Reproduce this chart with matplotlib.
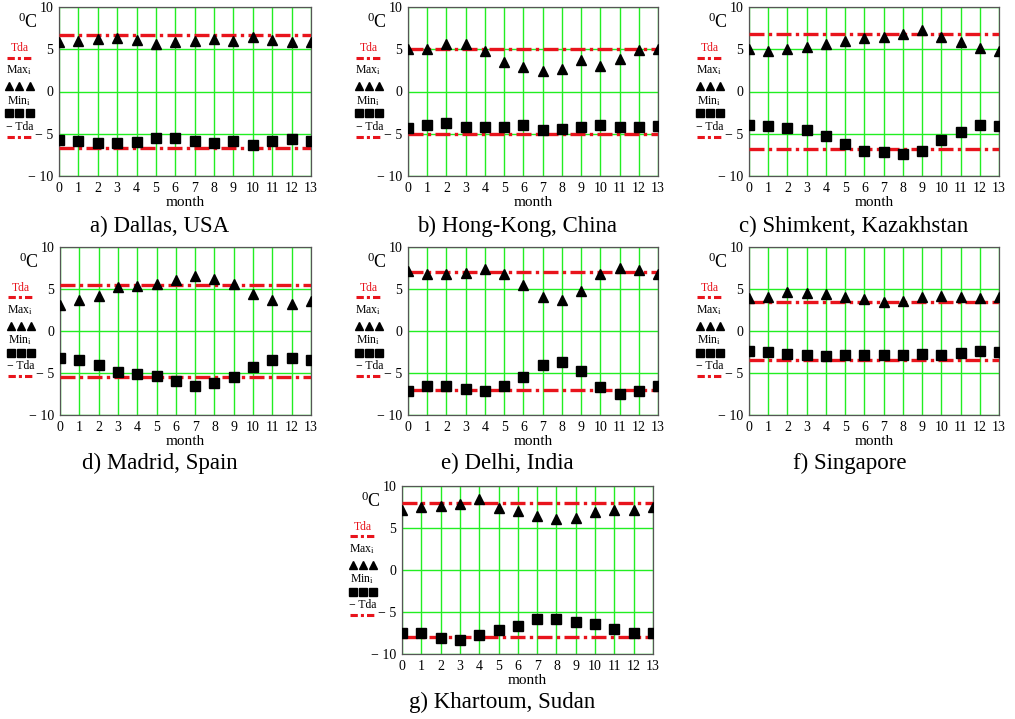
import numpy as np
import matplotlib.pyplot as plt

plt.rcParams["font.family"] = ["Liberation Serif", "DejaVu Serif"]
plt.rcParams["mathtext.fontset"] = "custom"
plt.rcParams["mathtext.rm"] = "Liberation Serif"
plt.rcParams["mathtext.it"] = "Liberation Serif:italic"

month = np.arange(14)

# Tda level and monthly max / min values
dallas_tda = 6.7
dallas_max = [5.85, 5.95, 6.2, 6.3, 6.1, 5.6, 5.8, 6.0, 6.2, 6.0, 6.4, 6.1, 5.85, 5.85]
dallas_min = [-5.7, -5.8, -6.1, -6.15, -6.0, -5.55, -5.5, -5.8, -6.1, -5.8, -6.3, -5.9, -5.6, -5.8]

hongkong_tda = 5.05
hongkong_max = [5.0, 5.05, 5.65, 5.65, 4.8, 3.45, 2.9, 2.4, 2.7, 3.7, 3.0, 3.9, 4.9, 5.05]
hongkong_min = [-4.3, -4.0, -3.75, -4.2, -4.2, -4.25, -3.95, -4.5, -4.4, -4.2, -4.0, -4.2, -4.25, -4.05]

shimkent_tda = 6.75
shimkent_max = [5.0, 4.8, 5.0, 5.3, 5.65, 6.0, 6.35, 6.4, 6.85, 7.3, 6.5, 5.8, 5.2, 4.8]
shimkent_min = [-4.0, -4.1, -4.3, -4.6, -5.3, -6.2, -7.0, -7.2, -7.4, -7.1, -5.7, -4.75, -4.0, -4.1]

madrid_tda = 5.5
madrid_max = [3.15, 3.65, 4.15, 5.2, 5.4, 5.6, 6.05, 6.55, 6.25, 5.6, 4.35, 3.7, 3.2, 3.55]
madrid_min = [-3.2, -3.5, -4.1, -4.9, -5.1, -5.4, -6.0, -6.5, -6.2, -5.45, -4.3, -3.5, -3.25, -3.5]

delhi_tda = 7.0
delhi_max = [7.2, 6.75, 6.75, 6.95, 7.35, 6.8, 5.45, 4.0, 3.7, 4.75, 6.8, 7.55, 7.3, 6.75]
delhi_min = [-7.1, -6.6, -6.6, -6.9, -7.1, -6.5, -5.5, -4.0, -3.65, -4.75, -6.65, -7.5, -7.1, -6.6]

singapore_tda = 3.5
singapore_max = [3.95, 4.05, 4.7, 4.55, 4.35, 4.0, 3.8, 3.5, 3.6, 4.0, 4.15, 4.1, 3.95, 4.0]
singapore_min = [-2.35, -2.5, -2.7, -2.8, -3.0, -2.8, -2.8, -2.8, -2.8, -2.7, -2.8, -2.6, -2.35, -2.5]

khartoum_tda = 8.0
khartoum_max = [7.2, 7.5, 7.6, 7.8, 8.45, 7.35, 7.0, 6.4, 6.1, 6.25, 6.9, 7.15, 7.2, 7.5]
khartoum_min = [-7.45, -7.55, -8.15, -8.35, -7.75, -7.2, -6.65, -5.85, -5.85, -6.15, -6.45, -7.05, -7.45, -7.55]

captions = ["a) Dallas, USA", "b) Hong-Kong, China", "c) Shimkent, Kazakhstan",
            "d) Madrid, Spain", "e) Delhi, India", "f) Singapore", "g) Khartoum, Sudan"]
tdas = [dallas_tda, hongkong_tda, shimkent_tda, madrid_tda, delhi_tda, singapore_tda, khartoum_tda]
maxs = [dallas_max, hongkong_max, shimkent_max, madrid_max, delhi_max, singapore_max, khartoum_max]
mins = [dallas_min, hongkong_min, shimkent_min, madrid_min, delhi_min, singapore_min, khartoum_min]

# layout in pixels: axes box (x0, y0, x1, y1) and caption centre
W, H = 1015, 719
boxes = [(59, 7, 311, 176), (408, 7, 658, 176), (749, 7, 999, 176),
         (60, 247, 311, 415), (408, 247, 658, 415), (749, 247, 999, 415),
         (402, 486, 653, 654)]
cap_pos = [(160, 226), (517, 226), (854, 226),
           (160, 463), (507, 463), (850, 463), (502, 702)]

RED = "#e8141c"
GREEN = "#22ee22"
DASH = (0, (4.5, 1.3, 1.0, 1.3))
LEG_DASH = (0, (2.4, 1.0, 1.0, 1.0))
LEG_X = [-0.197, -0.157, -0.117]

fig = plt.figure(figsize=(W / 100, H / 100), dpi=100)

for i in range(7):
    x0, y0, x1, y1 = boxes[i]
    ax = fig.add_axes([x0 / W, 1 - y1 / H, (x1 - x0) / W, (y1 - y0) / H])
    tda = tdas[i]

    ax.plot(month, maxs[i], "^", color="black", markersize=7.5, zorder=4)
    ax.plot(month, mins[i], "s", color="black", markersize=7.5, zorder=4)
    ax.plot(month, np.full(14, tda), color=RED, lw=2.4, linestyle=DASH, zorder=3)
    ax.plot(month, np.full(14, -tda), color=RED, lw=2.4, linestyle=DASH, zorder=3)

    ax.set_xlim(0, 13)
    ax.set_ylim(-10, 10)
    ax.set_xticks(month)
    ax.set_yticks([-10, -5, 0, 5, 10])
    ax.set_yticklabels(["\u2212 10", "\u2212 5", "0", "5", "10"])
    ax.tick_params(length=0, labelsize=10, pad=4)
    ax.grid(True, color=GREEN, lw=1.0)
    ax.set_axisbelow(True)
    for s in ax.spines.values():
        s.set_color("#555555")
        s.set_linewidth(0.9)
    ax.set_xlabel("month", fontsize=11, labelpad=1)

    # left-side labels (Mathcad style legend)
    ax.text(-0.123, 0.91, r"$^{0}$C", transform=ax.transAxes, fontsize=13,
            ha="center", va="center")
    ax.text(-0.155, 0.757, "Tda", transform=ax.transAxes, fontsize=8.5,
            color=RED, ha="center", va="center")
    ax.plot([-0.207, -0.104], [0.70, 0.70], transform=ax.transAxes, color=RED,
            lw=2.2, linestyle=LEG_DASH, clip_on=False)
    ax.text(-0.16, 0.627, r"Max$_{\mathrm{i}}$", transform=ax.transAxes, fontsize=8.5,
            ha="center", va="center")
    ax.plot(LEG_X, [0.53] * 3, "^", color="black", markersize=5.6,
            transform=ax.transAxes, clip_on=False)
    ax.text(-0.16, 0.445, r"Min$_{\mathrm{i}}$", transform=ax.transAxes, fontsize=8.5,
            ha="center", va="center")
    ax.plot(LEG_X, [0.37] * 3, "s", color="black", markersize=5.6,
            transform=ax.transAxes, clip_on=False)
    ax.text(-0.155, 0.29, "\u2212 Tda", transform=ax.transAxes, fontsize=8.5,
            ha="center", va="center")
    ax.plot([-0.207, -0.104], [0.232, 0.232], transform=ax.transAxes, color=RED,
            lw=2.2, linestyle=LEG_DASH, clip_on=False)

    cx, cy = cap_pos[i]
    fig.text(cx / W, 1 - cy / H, captions[i], fontsize=16.5, ha="center", va="center")

fig.savefig("out.png", dpi=100)
